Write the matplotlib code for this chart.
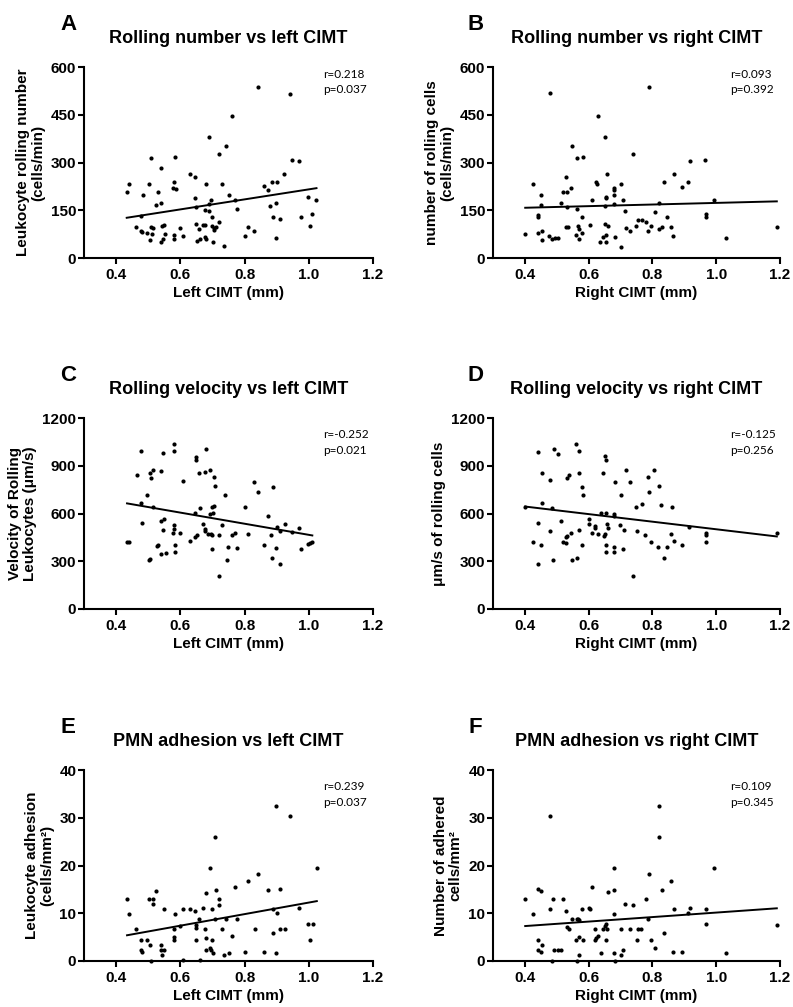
import numpy as np
import matplotlib
matplotlib.use("Agg")
import matplotlib.pyplot as plt

plt.rcParams['font.family'] = ['Liberation Sans', 'DejaVu Sans']

# ---------------- data ----------------
xticks = [0.4, 0.6, 0.8, 1.0, 1.2]
xtick_labels = ["0.4", "0.6", "0.8", "1.0", "1.2"]

# A: rolling number vs left CIMT
a_x = [0.841, 0.940, 0.760, 0.690, 0.743, 0.720, 0.509, 0.583, 0.948, 0.971, 0.540, 0.630, 0.646, 0.579,
       0.923, 0.439, 0.503, 0.679, 0.729, 0.861, 0.887, 0.901, 0.577, 0.585, 0.433, 0.529, 0.874, 0.484,
       0.750, 0.646, 0.697, 0.688, 0.770, 0.997, 1.024, 0.540, 0.523, 0.649, 0.880, 0.897, 0.777, 0.676,
       0.690, 0.478, 0.700, 0.890, 1.011, 0.977, 0.910, 0.720, 0.463, 0.477, 0.482, 0.497, 0.513, 0.509,
       0.516, 0.544, 0.550, 0.599, 0.649, 0.658, 0.671, 0.678, 0.700, 0.705, 0.711, 0.706, 0.810, 0.828,
       0.800, 1.004, 0.897, 0.507, 0.540, 0.546, 0.552, 0.579, 0.580, 0.607, 0.651, 0.661, 0.676, 0.680,
       0.703, 0.736]
a_y = [537, 516, 447, 379, 353, 327, 313, 318, 308, 306, 282, 263, 255, 240,
       264, 232, 232, 232, 232, 225, 238, 240, 221, 218, 207, 207, 214, 197,
       199, 187, 181, 171, 183, 193, 182, 172, 165, 161, 162, 174, 155, 150,
       147, 133, 129, 129, 138, 128, 121, 112, 96, 85, 81, 80, 75, 96,
       94, 99, 103, 95, 106, 91, 103, 103, 102, 95, 98, 87, 98, 86,
       69, 101, 64, 58, 50, 61, 75, 72, 59, 68, 53, 60, 66, 61,
       51, 37]

# B: rolling number vs right CIMT
b_x = [0.788, 0.480, 0.630, 0.650, 0.547, 0.739, 0.564, 0.581, 0.919, 0.966, 0.424, 0.530, 0.657, 0.622,
       0.627, 0.700, 0.837, 0.869, 0.913, 0.892, 0.451, 0.518, 0.532, 0.545, 0.681, 0.678, 0.680, 0.653,
       0.654, 0.611, 0.707, 0.514, 0.532, 0.562, 0.451, 0.680, 0.651, 0.820, 0.993, 0.441, 0.441, 0.580,
       0.713, 0.807, 0.846, 0.968, 0.968, 0.604, 0.529, 0.536, 0.567, 0.570, 0.580, 0.559, 0.570, 0.650,
       0.661, 0.653, 0.646, 0.682, 0.717, 0.730, 0.748, 0.754, 0.767, 0.780, 0.796, 0.786, 0.821, 0.830,
       0.859, 0.863, 0.401, 0.441, 0.454, 0.455, 0.476, 0.484, 0.493, 0.505, 0.637, 0.654, 0.701, 1.031,
       1.190]
b_y = [537, 517, 447, 379, 353, 327, 313, 318, 306, 308, 231, 255, 264, 240,
       232, 232, 238, 263, 240, 224, 197, 207, 207, 221, 215, 219, 199, 192,
       188, 183, 182, 172, 160, 155, 165, 171, 162, 174, 182, 134, 128, 129,
       149, 146, 129, 138, 130, 104, 98, 96, 99, 92, 79, 72, 59, 106,
       102, 73, 67, 66, 95, 86, 101, 120, 120, 113, 101, 86, 90, 96,
       97, 68, 75, 80, 85, 57, 69, 61, 63, 63, 51, 50, 36, 63,
       97]

# C: rolling velocity vs left CIMT
c_x = [0.580, 0.479, 0.547, 0.580, 0.680, 0.649, 0.649, 0.464, 0.506, 0.515, 0.541, 0.509, 0.657, 0.677,
       0.693, 0.706, 0.709, 0.608, 0.830, 0.841, 0.890, 0.495, 0.738, 0.479, 0.516, 0.660, 0.647, 0.698,
       0.706, 0.691, 0.703, 0.800, 0.874, 0.480, 0.541, 0.549, 0.580, 0.581, 0.545, 0.576, 0.600, 0.670,
       0.678, 0.677, 0.686, 0.694, 0.700, 0.721, 0.730, 0.761, 0.769, 0.810, 0.900, 0.911, 0.925, 0.947,
       0.971, 0.882, 0.440, 0.434, 0.529, 0.526, 0.630, 0.645, 0.651, 0.584, 0.584, 0.554, 0.541, 0.505,
       0.501, 0.698, 0.749, 0.778, 0.744, 0.861, 0.898, 0.887, 0.910, 0.720, 0.977, 0.998, 1.003, 1.011]
c_y = [1036, 990, 978, 990, 1007, 955, 938, 841, 856, 873, 866, 820, 854, 858,
       871, 827, 770, 806, 799, 736, 768, 715, 715, 665, 640, 634, 606, 642,
       650, 596, 604, 640, 587, 541, 552, 564, 525, 504, 499, 476, 476, 533,
       501, 491, 474, 470, 466, 462, 527, 468, 480, 474, 518, 493, 537, 483,
       510, 464, 422, 422, 405, 394, 428, 455, 462, 405, 357, 350, 346, 317,
       308, 380, 392, 382, 308, 399, 386, 321, 283, 206, 380, 407, 417, 420]

# D: rolling velocity vs right CIMT
d_x = [0.560, 0.490, 0.441, 0.570, 0.504, 0.650, 0.653, 0.454, 0.570, 0.646, 0.716, 0.806, 0.478, 0.537,
       0.531, 0.682, 0.730, 0.787, 0.820, 0.580, 0.581, 0.700, 0.790, 0.401, 0.454, 0.484, 0.749, 0.767,
       0.828, 0.862, 0.514, 0.441, 0.601, 0.600, 0.620, 0.619, 0.638, 0.653, 0.680, 0.678, 0.657, 0.661,
       0.698, 0.712, 0.753, 0.571, 0.480, 0.518, 0.530, 0.545, 0.532, 0.530, 0.611, 0.629, 0.650, 0.649,
       0.778, 0.797, 0.818, 0.846, 0.859, 0.869, 0.893, 0.916, 0.967, 0.969, 0.968, 0.424, 0.450, 0.487,
       0.441, 0.548, 0.564, 0.580, 0.655, 0.655, 0.680, 0.680, 0.707, 0.739, 0.836, 1.190]
d_y = [1034, 1007, 988, 990, 973, 959, 936, 856, 854, 856, 875, 871, 808, 841,
       822, 801, 797, 827, 772, 768, 715, 715, 736, 640, 663, 634, 642, 657,
       652, 638, 554, 541, 566, 533, 520, 506, 602, 606, 598, 585, 537, 506,
       529, 499, 491, 499, 487, 422, 413, 476, 459, 455, 478, 470, 470, 459,
       464, 422, 388, 388, 474, 430, 399, 514, 478, 466, 420, 420, 399, 308,
       281, 308, 319, 403, 405, 355, 359, 392, 380, 210, 321, 477]

# E: PMN adhesion vs left CIMT
e_x = [0.898, 0.941, 0.709, 0.691, 1.025, 0.841, 0.810, 0.769, 0.911, 0.874, 0.680, 0.711, 0.524, 0.434,
       0.503, 0.515, 0.515, 0.720, 0.720, 0.439, 0.550, 0.584, 0.607, 0.630, 0.647, 0.671, 0.700, 0.971,
       0.890, 0.901, 0.657, 0.707, 0.743, 0.778, 0.600, 0.579, 0.650, 0.650, 0.678, 0.730, 0.761, 0.831,
       0.910, 0.925, 0.888, 0.998, 1.012, 0.463, 0.479, 0.497, 0.506, 0.580, 0.580, 0.650, 0.680, 0.700,
       1.005, 0.479, 0.480, 0.540, 0.541, 0.548, 0.544, 0.679, 0.692, 0.696, 0.703, 0.736, 0.750, 0.801,
       0.861, 0.897, 0.509, 0.607, 0.660]
e_y = [32.4, 30.4, 26.0, 19.5, 19.5, 18.2, 16.7, 15.4, 15.1, 14.9, 14.3, 14.9, 14.7, 13.0,
       13.0, 13.0, 11.9, 13.0, 11.7, 9.8, 10.8, 9.8, 10.8, 10.8, 10.4, 11.2, 10.8, 11.2,
       10.8, 10.0, 8.7, 8.7, 8.7, 8.7, 7.4, 6.6, 7.5, 7.0, 6.6, 6.6, 5.2, 6.6,
       6.6, 6.6, 5.9, 7.8, 7.8, 6.6, 4.4, 4.4, 3.3, 5.0, 4.4, 4.4, 4.9, 4.4,
       4.4, 2.2, 1.9, 3.3, 2.2, 2.2, 1.3, 2.2, 2.7, 2.2, 1.7, 1.2, 1.6, 1.9,
       1.8, 1.6, 0.0, 0.2, 0.2]

# F: PMN adhesion vs right CIMT
f_x = [0.480, 0.819, 0.819, 0.680, 0.993, 0.790, 0.859, 0.830, 0.610, 0.441, 0.451, 0.660, 0.678, 0.401,
       0.487, 0.518, 0.779, 0.715, 0.739, 0.478, 0.424, 0.530, 0.579, 0.601, 0.603, 0.680, 0.869, 0.919,
       0.969, 0.912, 0.547, 0.563, 0.568, 0.570, 0.787, 0.653, 0.650, 0.531, 0.537, 0.619, 0.645, 0.659,
       0.700, 0.730, 0.754, 0.765, 0.837, 0.968, 0.441, 0.453, 0.441, 0.452, 0.490, 0.503, 0.513, 0.561,
       0.570, 0.582, 0.619, 0.628, 0.624, 0.654, 0.750, 0.797, 0.807, 0.570, 0.638, 0.680, 0.707, 0.700,
       0.863, 0.892, 1.031, 0.484, 0.564, 0.683, 1.190]
f_y = [30.3, 32.4, 26.0, 19.5, 19.5, 18.2, 16.7, 14.9, 15.5, 15.1, 14.7, 14.4, 14.9, 13.0,
       13.0, 13.0, 13.0, 11.9, 11.7, 10.8, 9.8, 10.4, 10.8, 11.1, 10.9, 9.8, 10.8, 11.2,
       10.8, 10.0, 8.7, 8.7, 8.7, 8.5, 8.7, 7.7, 7.4, 7.2, 6.6, 6.6, 6.6, 6.6,
       6.6, 6.6, 6.6, 6.6, 5.9, 7.8, 4.4, 3.3, 2.2, 1.9, 2.2, 2.2, 2.2, 4.4,
       5.0, 4.4, 4.4, 5.2, 4.9, 4.4, 4.4, 4.4, 2.8, 1.3, 1.6, 1.6, 2.2, 1.2,
       1.9, 1.9, 1.6, 0.0, 0.0, 0.0, 7.5]

letters = ["A", "B", "C", "D", "E", "F"]
titles = ["Rolling number vs left CIMT", "Rolling number vs right CIMT",
          "Rolling velocity vs left CIMT", "Rolling velocity vs right CIMT",
          "PMN adhesion vs left CIMT", "PMN adhesion vs right CIMT"]
ylabels = ["Leukocyte rolling number\n(cells/min)", "number of rolling cells\n(cells/min)",
           "Velocity of Rolling\nLeukocytes (\u03bcm/s)", "\u03bcm/s of rolling cells",
           "Leukocyte adhesion\n(cells/mm\u00b2)", "Number of adhered\ncells/mm\u00b2"]
xlabels = ["Left CIMT (mm)", "Right CIMT (mm)"] * 3
r_values = ["0.218", "0.093", "-0.252", "-0.125", "0.239", "0.109"]
p_values = ["0.037", "0.392", "0.021", "0.256", "0.037", "0.345"]
yticks_rows = [[0, 150, 300, 450, 600], [0, 300, 600, 900, 1200], [0, 10, 20, 30, 40]]

xs = [a_x, b_x, c_x, d_x, e_x, f_x]
ys = [a_y, b_y, c_y, d_y, e_y, f_y]

# ---------------- figure ----------------
W, H = 793, 1007
fig = plt.figure(figsize=(W / 100, H / 100), dpi=100)

col_left = [84, 493]
col_right = [373, 780]
row_top = [67, 418, 770]
row_bot = [258, 609, 961]
r_offset = [0.99, 0.94, 0.94]

for i in range(6):
    row, col = divmod(i, 2)
    l = col_left[col] / W
    w = (col_right[col] - col_left[col]) / W
    b = 1 - row_bot[row] / H
    h = (row_bot[row] - row_top[row]) / H
    ax = fig.add_axes([l, b, w, h])

    x = np.array(xs[i])
    y = np.array(ys[i])
    ax.scatter(x, y, s=9, color="black", linewidths=0, clip_on=False, zorder=3)
    k, c0 = np.polyfit(x, y, 1)
    xl = np.array([x.min(), x.max()])
    ax.plot(xl, k * xl + c0, color="black", lw=1.4, zorder=2)

    yt = yticks_rows[row]
    ax.set_xlim(0.3, 1.2)
    ax.set_ylim(yt[0], yt[-1])
    ax.set_xticks(xticks)
    ax.set_xticklabels(xtick_labels)
    ax.set_yticks(yt)
    ax.set_yticklabels([str(v) for v in yt])

    for s in ["top", "right"]:
        ax.spines[s].set_visible(False)
    for s in ["left", "bottom"]:
        ax.spines[s].set_linewidth(1.5)
    ax.tick_params(axis="both", direction="out", length=4, width=1.5, labelsize=11)
    ax.tick_params(axis="y", pad=1.5)
    ax.tick_params(axis="x", pad=3)
    for lab in ax.get_xticklabels() + ax.get_yticklabels():
        lab.set_fontweight("bold")

    ax.set_xlabel(xlabels[i], fontsize=11, fontweight="bold", labelpad=3)
    ax.set_ylabel(ylabels[i], fontsize=11, fontweight="bold", labelpad=4, linespacing=1.1)

    ax.text(0.5, 1.147, titles[i], transform=ax.transAxes, ha="center", va="center",
            fontsize=13, fontweight="bold")
    ax.text(-0.055 if col == 0 else -0.06, 1.22, letters[i], transform=ax.transAxes,
            ha="center", va="center", fontsize=16, fontweight="bold")
    ax.text(0.827, r_offset[row], "r=" + r_values[i] + "\np=" + p_values[i],
            transform=ax.transAxes, ha="left", va="top", fontsize=8.5, family=["Lato", "DejaVu Sans"],
            linespacing=1.5)

fig.savefig("out.png", dpi=100)
